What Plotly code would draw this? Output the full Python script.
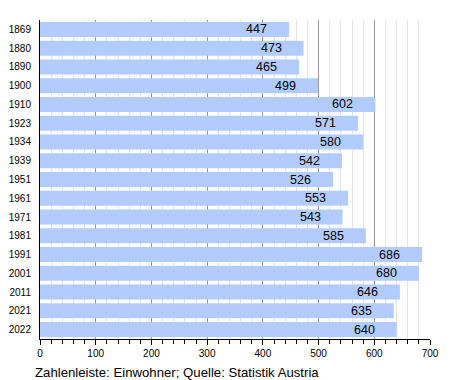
import plotly.graph_objects as go

years = ["1869", "1880", "1890", "1900", "1910", "1923", "1934", "1939", "1951",
         "1961", "1971", "1981", "1991", "2001", "2011", "2021", "2022"]
population = [447, 473, 465, 499, 602, 571, 580, 542, 526, 553, 543, 585, 686, 680, 646, 635, 640]
caption = "Zahlenleiste: Einwohner; Quelle: Statistik Austria"

FONT = "Liberation Sans, Arial, sans-serif"

fig = go.Figure()
fig.add_trace(go.Bar(
    x=population, y=years, orientation="h",
    marker=dict(color="#b3ccff", line=dict(width=0)),
    width=0.8, hoverinfo="x+y",
))

# annotation y given as category index (position of each year in the list)
for i, v in enumerate(population):
    fig.add_annotation(x=v, y=i, text=str(v), showarrow=False,
                       xanchor="right", xshift=-20,
                       font=dict(family=FONT, size=12.5, color="black"))

fig.add_annotation(x=0, y=0, xref="paper", yref="paper", text=caption,
                   showarrow=False, xanchor="left", yanchor="middle",
                   xshift=-7, yshift=-33,
                   font=dict(family=FONT, size=13.2, color="black"))

fig.update_layout(
    width=450, height=380,
    margin=dict(l=40, r=20, t=20, b=41, autoexpand=False),
    paper_bgcolor="white", plot_bgcolor="white",
    showlegend=False,
    bargap=0.2,
    font=dict(family=FONT, color="black"),
    xaxis=dict(
        range=[0, 700], dtick=100, tick0=0,
        showgrid=True, gridcolor="#999999", gridwidth=1,
        showline=True, linecolor="black", linewidth=1,
        ticks="outside", ticklen=5, tickcolor="black", tickwidth=1,
        tickfont=dict(family=FONT, size=10, color="black"),
        zeroline=False,
        minor=dict(dtick=20, showgrid=True, gridcolor="#e4e4e4", gridwidth=1,
                   ticks="outside", ticklen=4, tickcolor="black"),
        fixedrange=True,
    ),
    yaxis=dict(
        type="category", categoryorder="array", categoryarray=years,
        range=[len(years) - 0.5, -0.5],
        showgrid=False, showline=True, linecolor="black", linewidth=1,
        ticks="", ticklabelstandoff=6,
        tickfont=dict(family=FONT, size=10, color="black"),
        fixedrange=True,
    ),
)

fig.write_html("out.html", config={"displayModeBar": False},
               post_script="document.body.style.margin='0';document.body.style.overflow='hidden';")
